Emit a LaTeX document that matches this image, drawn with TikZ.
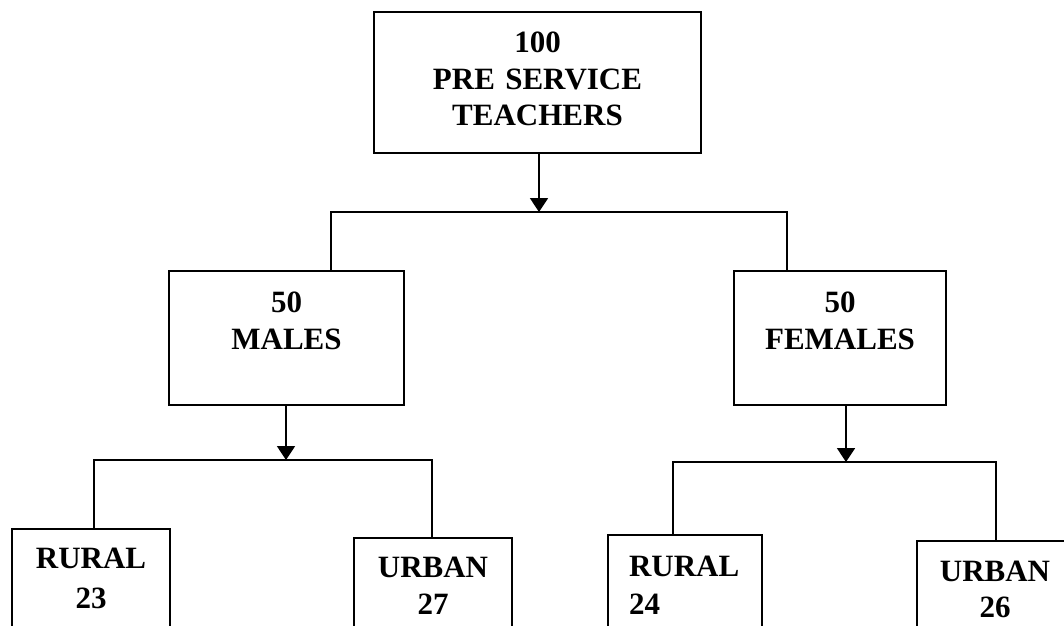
\documentclass[tikz,border=0pt]{standalone}
\usepackage{fontspec}
\setmainfont{Liberation Serif}
\usetikzlibrary{arrows.meta}
\usetikzlibrary{calc}

\begin{document}
\begin{tikzpicture}[x=1pt,y=-1pt]
\tikzstyle{box}=[draw,line width=1.6pt,rectangle,anchor=north,inner sep=0pt,align=center,font=\fontsize{31}{36.5}\selectfont\bfseries]
\tikzstyle{link}=[line width=1.2pt]
\tikzstyle{down}=[line width=1.8pt,-{Triangle[length=14pt,width=18pt]}]
\useasboundingbox (0,0) rectangle (1064,625);
\node [box,minimum width=327pt,text width=300pt,text height=41pt,text depth=100pt] (pst) at (537.5,11) {100\\PRE SERVICE\\TEACHERS};
\node [box,minimum width=235pt,text width=200pt,text height=42pt,text depth=92pt] (males) at (286.5,270) {50\\MALES};
\node [box,minimum width=212pt,text width=200pt,text height=42pt,text depth=92pt] (females) at (840,270) {50\\FEMALES};
\node [box,minimum width=158pt,text width=140pt,text height=40pt,text depth=100pt] (rural23) at (91,528) {RURAL\\[3.5pt]23};
\node [box,minimum width=158pt,text width=140pt,text height=40pt,text depth=100pt] (urban27) at (433,537) {URBAN\\27};
\node [box,minimum width=154pt,text width=112pt,align=left,text height=42pt,text depth=100pt] (rural24) at (685,534) {RURAL\\[1.5pt]24};
\node [box,minimum width=156pt,text width=140pt,text height=41pt,text depth=100pt] (urban26) at (995,540) {URBAN\\[-1pt]26};
\coordinate (j0) at (539,212);
\coordinate (j1) at (286,460);
\coordinate (j2) at (846,462);
\draw [down] ([xshift=1.5pt]pst.south) -- (j0);
\draw [link] ([xshift=44.5pt]males.north) |- (j0) -| ([xshift=-53pt]females.north);
\draw [down] ([xshift=-0.5pt]males.south) -- (j1);
\draw [link] ([xshift=3pt]rural23.north) |- (j1) -| ([xshift=-1pt]urban27.north);
\draw [down] ([xshift=6pt]females.south) -- (j2);
\draw [link] ([xshift=-12pt]rural24.north) |- (j2) -| ([xshift=1pt]urban26.north);
\end{tikzpicture}
\end{document}
